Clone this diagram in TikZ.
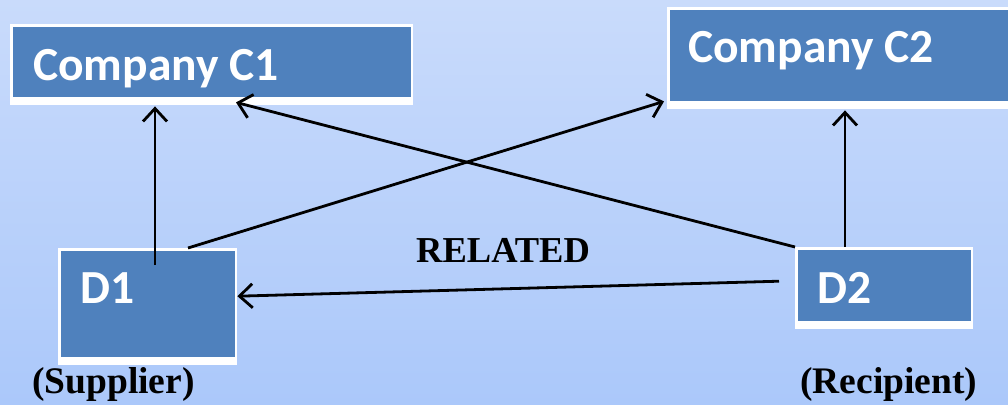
\documentclass[tikz,border=0pt]{standalone}
\usepackage{fontspec}
\setmainfont{Liberation Serif}
\newfontfamily\boxfont{Carlito}
\usetikzlibrary{arrows.meta}
\definecolor{boxblue}{RGB}{79,129,189}
\definecolor{bgtop}{RGB}{201,219,251}
\definecolor{bgbottom}{RGB}{171,200,250}
\tikzset{
  entity/.style={rectangle, fill=white, inner sep=0pt, anchor=north west,
    path picture={\fill[boxblue]
      ([shift={(2.5pt,-2.5pt)}]path picture bounding box.north west) rectangle
      ([shift={(-2.5pt,8.5pt)}]path picture bounding box.south east);}},
  boxtext/.style={anchor=base west, inner sep=0pt, text=white, font=\boxfont\bfseries\fontsize{47.5}{52}\selectfont},
  role/.style={anchor=base west, inner sep=0pt, font=\bfseries\fontsize{37.5}{42}\selectfont},
  arr/.style={-{Straight Barb[length=13pt,width=24pt]}, line width=2.8pt, black}
}
\begin{document}
\begin{tikzpicture}[x=1pt,y=-1pt]
  \useasboundingbox (0,0) rectangle (1008,404);
  \clip (0,0) rectangle (1008,404);
  \shade[top color=bgtop, bottom color=bgbottom] (0,0) rectangle (1008,404);

  % entity boxes
  \node[entity, minimum width=403pt, minimum height=81pt] (c1) at (10,24) {};
  \node[entity, minimum width=350pt, minimum height=102pt] (c2) at (667,7) {};
  \node[entity, minimum width=179pt, minimum height=117pt] (d1) at (58,248) {};
  \node[entity, minimum width=178pt, minimum height=82pt] (d2) at (795,247) {};

  % box captions
  \node[boxtext] (c1t) at (33,80) {Company C1};
  \node[boxtext] (c2t) at (688,63) {Company C2};
  \node[boxtext] (d1t) at (80,303) {D1};
  \node[boxtext] (d2t) at (817,303) {D2};

  % role labels
  \node[role, font=\bfseries\fontsize{36.5}{42}\selectfont] (rel) at (416,262) {RELATED};
  \node[role] (sup) at (32,393) {(Supplier)};
  \node[role] (rec) at (800,393) {(Recipient)};

  % connectors
  \draw[arr] ([xshift=97pt,yshift=-17pt]d1.north west) -- ([xshift=145pt,yshift=-1pt]c1.south west);
  \draw[arr] ([xshift=130pt]d1.north west) -- ([xshift=-3pt,yshift=8pt]c2.south west);
  \draw[arr] (d2.north west) -- ([xshift=226pt,yshift=3pt]c1.south west);
  \draw[arr] ([xshift=50pt]d2.north west) -- ([xshift=178pt,yshift=-1pt]c2.south west);
  \draw[arr] ([xshift=-16pt,yshift=7pt]d2.west) -- ([yshift=10.5pt]d1.east);
\end{tikzpicture}
\end{document}
